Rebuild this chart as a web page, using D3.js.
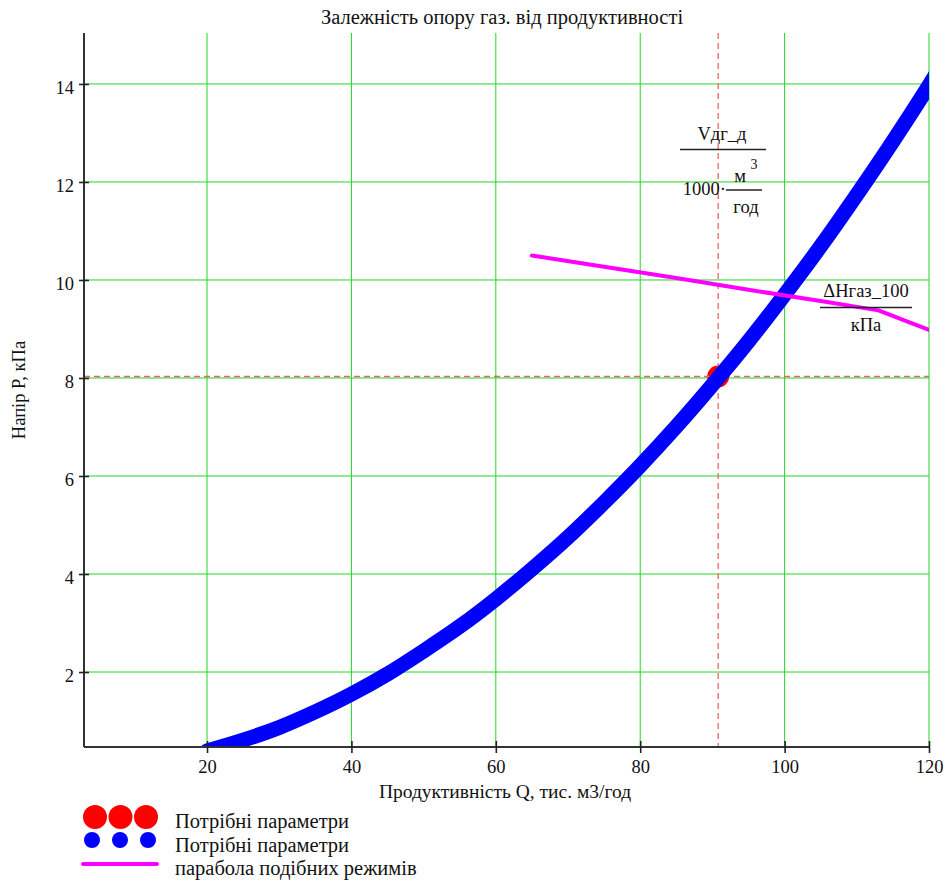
<!DOCTYPE html>
<html>
<head>
<meta charset="utf-8">
<script src="https://cdn.jsdelivr.net/npm/d3@7"></script>
<style>
  body { margin: 0; background: #fff; }
  svg { display: block; }
  text { font-family: "Liberation Serif", "Times New Roman", serif; fill: #111; }
</style>
</head>
<body>
<svg id="chart" width="950" height="881"></svg>
<script>
// Gas path resistance curve: flow Q (thousand m3/h) vs head P (kPa)
const flowQ = [20, 25, 30, 35, 40, 45, 50, 55, 60, 65, 70, 75, 80, 85, 90, 95, 100, 105, 110, 115, 120, 125];
const headP = [0.39, 0.61, 0.87, 1.19, 1.55, 1.96, 2.43, 2.93, 3.49, 4.10, 4.75, 5.46, 6.21, 7.01, 7.86, 8.75, 9.70, 10.69, 11.74, 12.83, 13.97, 15.16];

// Similar-mode curve
const similarQ = [65, 75, 85, 95, 105, 113, 120];
const similarP = [10.50, 10.27, 10.04, 9.80, 9.57, 9.38, 8.98];

// Required operating point
const workQ = [90.8];
const workP = [8.03];

const xTicks = [20, 40, 60, 80, 100, 120];
const yTicks = [2, 4, 6, 8, 10, 12, 14];

const svg = d3.select("#chart");
const plot = { left: 84, right: 929, top: 33, bottom: 747 };

const x = d3.scaleLinear().domain([2.96, 120]).range([plot.left, plot.right]);
const y = d3.scaleLinear().domain([0.47, 15.04]).range([plot.bottom, plot.top]);

svg.append("defs").append("clipPath").attr("id", "plotClip")
  .append("rect")
  .attr("x", plot.left).attr("y", plot.top)
  .attr("width", plot.right - plot.left).attr("height", plot.bottom - plot.top);

// Grid
const grid = svg.append("g").attr("stroke", "#22d822").attr("stroke-width", 1);
grid.selectAll("line.v").data(xTicks).join("line").attr("class", "v")
  .attr("x1", d => x(d)).attr("x2", d => x(d))
  .attr("y1", plot.top).attr("y2", plot.bottom);
grid.selectAll("line.h").data(yTicks).join("line").attr("class", "h")
  .attr("x1", plot.left).attr("x2", plot.right)
  .attr("y1", d => y(d)).attr("y2", d => y(d));

const inner = svg.append("g").attr("clip-path", "url(#plotClip)");

// Operating point
inner.selectAll("circle.work").data(workQ).join("circle").attr("class", "work")
  .attr("cx", d => x(d)).attr("cy", (d, i) => y(workP[i]))
  .attr("r", 11).attr("fill", "#ff0000");

// Marker lines through the operating point
inner.selectAll("line.mv").data(workQ).join("line").attr("class", "mv")
  .attr("x1", d => x(d)).attr("x2", d => x(d))
  .attr("y1", plot.top).attr("y2", plot.bottom)
  .attr("stroke", "#e86464").attr("stroke-width", 1.3).attr("stroke-dasharray", "6,4");
inner.selectAll("line.mh").data(workP).join("line").attr("class", "mh")
  .attr("x1", plot.left).attr("x2", plot.right)
  .attr("y1", d => y(d)).attr("y2", d => y(d))
  .attr("stroke", "#e86464").attr("stroke-width", 1.3).attr("stroke-dasharray", "6,4");

// Resistance curve (dense markers drawn as a thick band)
const resistLine = d3.line().curve(d3.curveMonotoneX)
  .x(d => x(d[0])).y(d => y(d[1]));
inner.append("path")
  .datum(flowQ.map((q, i) => [q, headP[i]]))
  .attr("d", resistLine)
  .attr("fill", "none").attr("stroke", "#0000ff")
  .attr("stroke-width", 15).attr("stroke-linecap", "round").attr("stroke-linejoin", "round");

// Similar-mode curve
const simLine = d3.line().x(d => x(d[0])).y(d => y(d[1]));
inner.append("path")
  .datum(similarQ.map((q, i) => [q, similarP[i]]))
  .attr("d", simLine)
  .attr("fill", "none").attr("stroke", "#ff00ff")
  .attr("stroke-width", 4).attr("stroke-linecap", "round").attr("stroke-linejoin", "round");

// Axes
const yAxis = svg.append("g").attr("transform", `translate(${plot.left},0)`)
  .call(d3.axisLeft(y).tickValues(yTicks).tickSize(5).tickPadding(5).tickSizeOuter(0));
yAxis.selectAll(".tick line").attr("x1", -5).attr("x2", 5);
yAxis.selectAll(".tick text").attr("dy", "0.5em");
const xAxis = svg.append("g").attr("transform", `translate(0,${plot.bottom})`)
  .call(d3.axisBottom(x).tickValues(xTicks).tickSize(6).tickPadding(7).tickSizeOuter(0));
xAxis.selectAll(".tick line").attr("y1", -6).attr("y2", 6);
[yAxis, xAxis].forEach(a => {
  a.select(".domain").attr("stroke", "#333").attr("stroke-width", 2);
  a.selectAll(".tick line").attr("stroke", "#222").attr("stroke-width", 1.6);
  a.selectAll(".tick text").attr("font-family", "Liberation Serif, serif").attr("font-size", 18.5).attr("fill", "#111");
});
yAxis.select(".domain").attr("d", `M0,${plot.top}V${plot.bottom}`);
xAxis.select(".domain").attr("d", `M${plot.left},0H${plot.right}`);

// Titles
svg.append("text").attr("x", 502).attr("y", 24).attr("text-anchor", "middle")
  .attr("font-size", 20.5).text("Залежність опору газ. від продуктивності");
svg.append("text").attr("x", 505).attr("y", 798).attr("text-anchor", "middle")
  .attr("font-size", 19.5).text("Продуктивність Q, тис. м3/год");
svg.append("text").attr("transform", "translate(25,390) rotate(-90)").attr("text-anchor", "middle")
  .attr("font-size", 18.5).text("Напір P, кПа");

// Fraction labels for the marker lines
const ann = svg.append("g").attr("font-size", 18.5);
ann.append("text").attr("x", 722).attr("y", 140).attr("text-anchor", "middle").text("Vдг_д");
ann.append("line").attr("x1", 680).attr("x2", 766).attr("y1", 149.5).attr("y2", 149.5).attr("stroke", "#222").attr("stroke-width", 1.3);
ann.append("text").attr("x", 726).attr("y", 195).attr("text-anchor", "end").text("1000·");
ann.append("text").attr("x", 740).attr("y", 182).attr("text-anchor", "middle").text("м");
ann.append("text").attr("x", 754).attr("y", 169).attr("text-anchor", "middle").attr("font-size", 14).text("3");
ann.append("line").attr("x1", 726).attr("x2", 762).attr("y1", 190).attr("y2", 190).attr("stroke", "#222").attr("stroke-width", 1.3);
ann.append("text").attr("x", 746).attr("y", 213).attr("text-anchor", "middle").text("год");

ann.append("text").attr("x", 866).attr("y", 297).attr("text-anchor", "middle").text("ΔHгаз_100");
ann.append("line").attr("x1", 820).attr("x2", 912).attr("y1", 307.5).attr("y2", 307.5).attr("stroke", "#222").attr("stroke-width", 1.3);
ann.append("text").attr("x", 866).attr("y", 331).attr("text-anchor", "middle").text("кПа");

// Legend
const legendNames = ["Потрібні параметри", "Потрібні параметри", "парабола подібних режимів"];
const legend = svg.append("g");
legend.selectAll("circle.red").data([95, 120.5, 146]).join("circle").attr("class", "red")
  .attr("cx", d => d).attr("cy", 817).attr("r", 12).attr("fill", "#ff0000");
legend.selectAll("circle.blue").data([92, 120, 148]).join("circle").attr("class", "blue")
  .attr("cx", d => d).attr("cy", 840).attr("r", 8).attr("fill", "#0000ff");
legend.append("line").attr("x1", 83).attr("x2", 157).attr("y1", 864).attr("y2", 864)
  .attr("stroke", "#ff00ff").attr("stroke-width", 4).attr("stroke-linecap", "round");
legend.selectAll("text").data(legendNames).join("text")
  .attr("x", 175).attr("y", (d, i) => [828, 852, 875][i])
  .attr("font-size", 20.5).text(d => d);
</script>
</body>
</html>
